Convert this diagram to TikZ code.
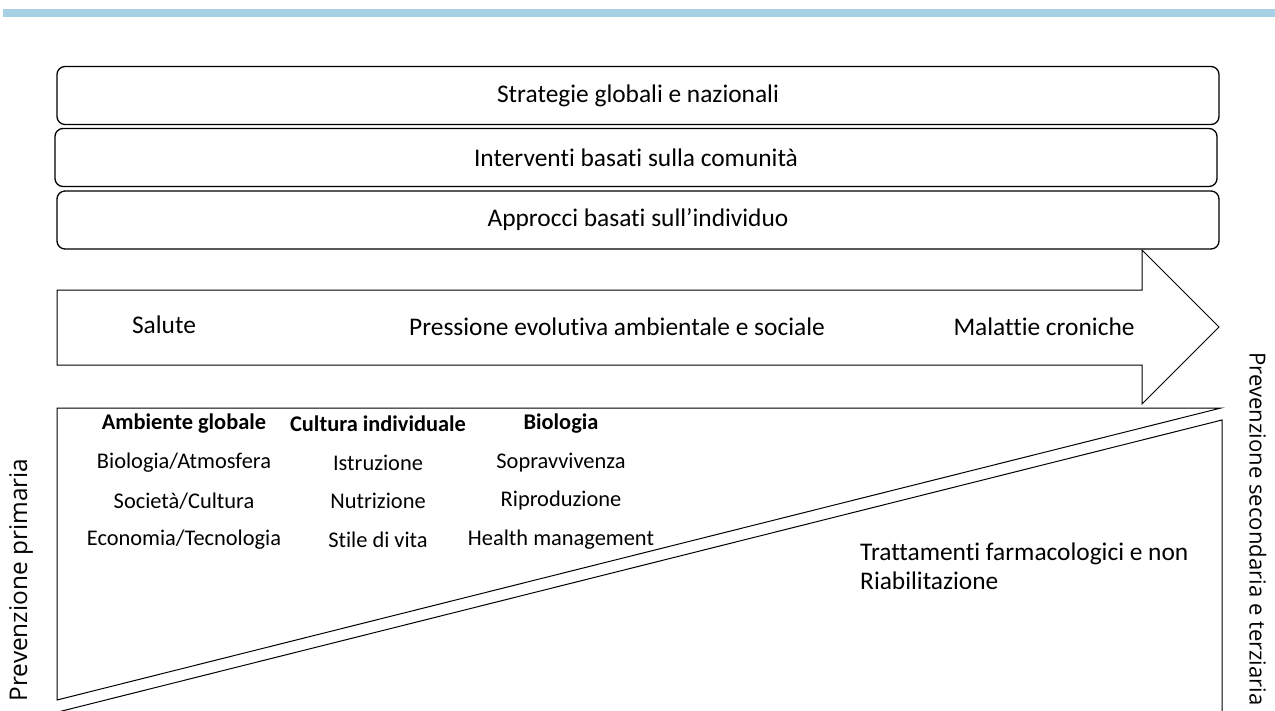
\documentclass[tikz,border=0pt]{standalone}
\usepackage{fontspec}
\setmainfont{Carlito}[Ligatures=CommonOff]
\newfontfamily\sidefont{Open Sans}
\definecolor{barblue}{RGB}{168,208,228}

\begin{document}
\begin{tikzpicture}[x=1pt, y=-1pt,
    txt/.style={inner sep=0pt, font=\fontsize{25.4}{30}\selectfont},
    item/.style={inner sep=0pt, font=\fontsize{22.4}{27}\selectfont},
    head/.style={item, font=\fontsize{22.4}{27}\selectfont\bfseries},
    side/.style={inner sep=0pt, font=\sidefont\fontsize{22.1}{26}\selectfont},
    layer/.style={txt, draw, line width=1.3pt, rounded corners=8pt, minimum width=1162pt, minimum height=58pt}]
    \useasboundingbox (0, 0) rectangle (1275, 710);
    \fill [barblue] (3, 9) rectangle (1275, 17);

    \node [layer] (strategie) at (638, 95.5) {Strategie globali e nazionali};
    \node [layer] (comunita) at (636, 157.5) {Interventi basati sulla comunità};
    \node [layer] (individuo) at (638, 220) {Approcci basati sull’individuo};

    \draw [line width=1pt, fill=white] (57, 290) -- (1142, 290) -- (1142, 250) -- (1219, 327) -- (1142, 404) --
                (1142, 365) -- (57, 365) -- cycle;
    \node [txt] (salute) at (164, 325) {Salute};
    \node [txt] (pressione) at (617, 327) {Pressione evolutiva ambientale e sociale};
    \node [txt] (malattie) at (1044, 327) {Malattie croniche};

    \draw [line width=1pt] (57, 408) -- (1221, 408) -- (57, 700) -- cycle;
    \draw [line width=1pt] (1222, 420) -- (1222, 716) -- (42, 716) -- cycle;

    \node [head] (ambiente) at (184, 424) {Ambiente globale};
    \node [item] (atmosfera) at (184, 463) {Biologia/Atmosfera};
    \node [item] (societa) at (184, 501) {Società/Cultura};
    \node [item] (economia) at (184, 540) {Economia/Tecnologia};

    \node [head] (cultura) at (378, 424) {Cultura individuale};
    \node [item] (istruzione) at (378, 463) {Istruzione};
    \node [item] (nutrizione) at (378, 501) {Nutrizione};
    \node [item] (stile) at (378, 540) {Stile di vita};

    \node [head] (biologia) at (561, 424) {Biologia};
    \node [item] (sopravvivenza) at (561, 463) {Sopravvivenza};
    \node [item] (riproduzione) at (561, 501) {Riproduzione};
    \node [item] (health) at (561, 540) {Health management};

    \node [txt, anchor=west, align=left, font=\fontsize{25.4}{29}\selectfont] (trattamenti) at (860, 566)
        {Trattamenti farmacologici e non\\Riabilitazione};

    \node [side, rotate=90, font=\sidefont\fontsize{24.4}{28}\selectfont] (primaria) at (21, 580) {Prevenzione primaria};
    \node [side, rotate=-90] (secondaria) at (1258, 529) {Prevenzione secondaria e terziaria};
\end{tikzpicture}
\end{document}
